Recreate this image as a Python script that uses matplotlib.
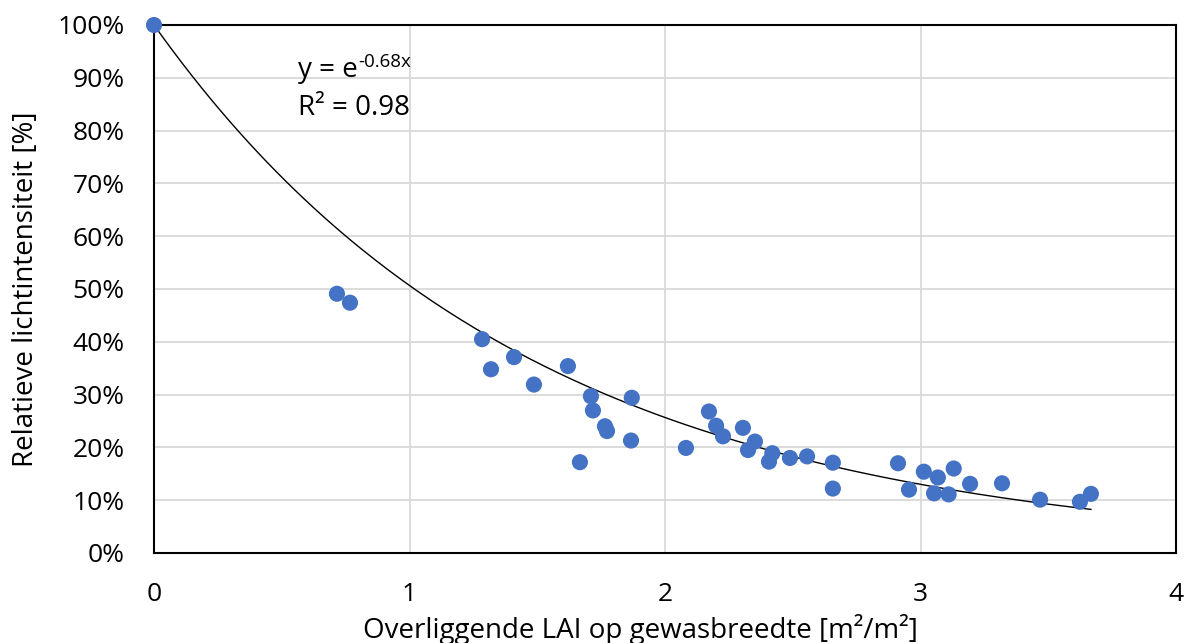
import matplotlib.pyplot as plt
import numpy as np

# Overlying LAI (m2/m2) vs. relative light intensity (%)
lai = [0.0, 0.716, 0.767, 1.284, 1.319, 1.409, 1.487, 1.620, 1.667, 1.710, 1.718,
       1.765, 1.773, 1.867, 1.870, 2.082, 2.172, 2.200, 2.227, 2.305, 2.325,
       2.352, 2.407, 2.420, 2.489, 2.556, 2.657, 2.657, 2.912, 2.955, 3.013,
       3.053, 3.068, 3.110, 3.130, 3.194, 3.319, 3.468, 3.624, 3.667]
light = [100.0, 49.1, 47.4, 40.5, 34.8, 37.1, 31.9, 35.4, 17.2, 29.7, 27.0,
         24.0, 23.1, 21.3, 29.4, 19.9, 26.8, 24.1, 22.1, 23.7, 19.5,
         21.1, 17.3, 18.9, 18.0, 18.3, 17.1, 12.2, 17.0, 12.0, 15.4,
         11.3, 14.3, 11.1, 16.0, 13.1, 13.2, 10.1, 9.7, 11.2]

k = -0.68
r2 = 0.98

plt.rcParams['font.family'] = ['Open Sans', 'DejaVu Sans']

fig = plt.figure(figsize=(11.89, 6.43), dpi=100)
ax = fig.add_axes([154 / 1189, 1 - 553 / 643, (1176 - 154) / 1189, (553 - 25) / 643])

# exponential trendline over the data range
xf = np.linspace(0, max(lai), 200)
ax.plot(xf, 100 * np.exp(k * xf), color='black', linewidth=1.0, zorder=3)

ax.scatter(lai, light, s=135, color='#4472C4', edgecolors='none', zorder=4, clip_on=False)

ax.set_xlim(0, 4)
ax.set_ylim(0, 100)
ax.set_xticks([0, 1, 2, 3, 4])
ax.set_yticks(range(0, 101, 10))
ax.set_yticklabels([f'{v}%' for v in range(0, 101, 10)])
ax.tick_params(length=0, labelsize=19, pad=21)

ax.grid(True, color='#d9d9d9', linewidth=1.3)
ax.set_axisbelow(True)
for s in ax.spines.values():
    s.set_linewidth(1.5)
    s.set_color('black')

ax.set_xlabel('Overliggende LAI op gewasbreedte [m²/m²]', fontsize=20)
ax.set_ylabel('Relatieve lichtintensiteit [%]', fontsize=20)
ax.xaxis.set_label_coords(0.476, -0.115)
ax.yaxis.set_label_coords(-0.112, 0.5)

# trendline equation and R²
eq = ax.text(0.564, 90.2, 'y = e', fontsize=20, va='baseline')
ax.annotate(f'{k}x'.replace('\u2212', '-'), xy=(1, 1), xycoords=eq,
            xytext=(0.5, 2), textcoords='offset points',
            fontsize=13.5, ha='left', va='top')
ax.text(0.564, 83.0, f'R² = {r2}', fontsize=20, va='baseline')

fig.savefig('out.png', dpi=100)
